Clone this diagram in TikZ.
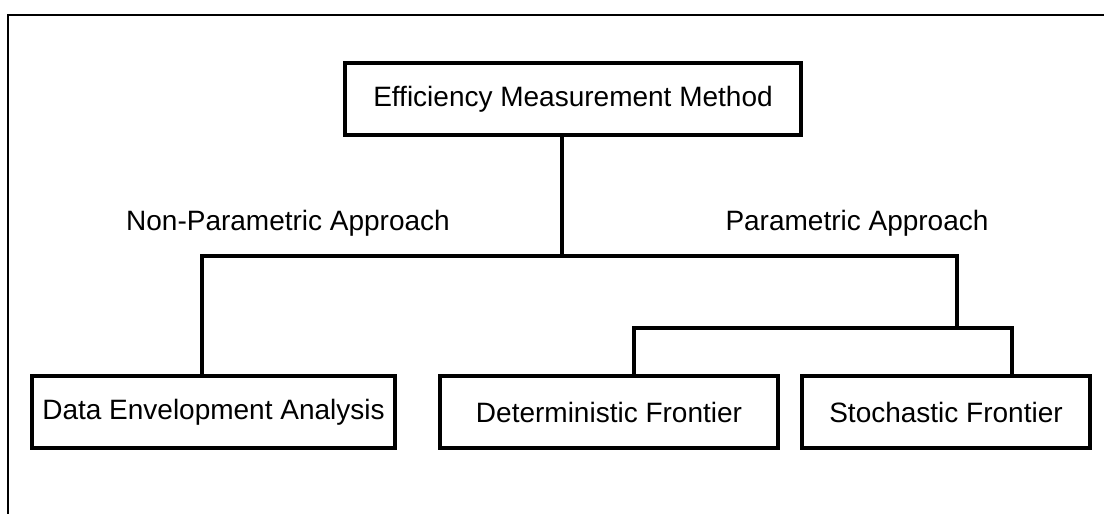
\documentclass[tikz,border=0pt]{standalone}
\usepackage{fontspec}
\setmainfont{Liberation Sans}
\begin{document}
\begin{tikzpicture}[x=0.75pt,y=-0.75pt,
  box/.style={draw, line width=3pt, minimum height=54pt, inner sep=0pt, font=\fontsize{21}{24}\selectfont},
  conn/.style={line width=3pt},
  lbl/.style={font=\fontsize{21}{24}\selectfont, anchor=base},
  frame/.style={line width=1.5pt}]
\useasboundingbox (0,0) rectangle (1104,514);
\draw[frame] (8,530) -- (8,15) -- (1120,15);
\node[box, minimum width=342pt] (top) at (573,99) {Efficiency Measurement Method};
\node[box, minimum width=272.25pt] (dea) at (213.5,412) {Data Envelopment Analysis};
\node[box, minimum width=253.5pt] (det) at (609,412) {Deterministic Frontier};
\node[box, minimum width=216pt] (sto) at (946,412) {Stochastic Frontier};
\coordinate (j) at (562,256);
\coordinate (l) at (202,256);
\coordinate (r) at (957,256);
\coordinate (s) at (957,328);
\coordinate (sl) at (634,328);
\coordinate (sr) at (1012,328);
\draw[conn] (top.south -| j) -- (j);
\draw[conn] (dea.north -| l) -- (l) -- (r) -- (s);
\draw[conn] (det.north -| sl) -- (sl) -- (sr) -- (sto.north -| sr);
\node[lbl] (np) at (288,230) {Non-Parametric Approach};
\node[lbl] (pa) at (857,230) {Parametric Approach};
\end{tikzpicture}
\end{document}
